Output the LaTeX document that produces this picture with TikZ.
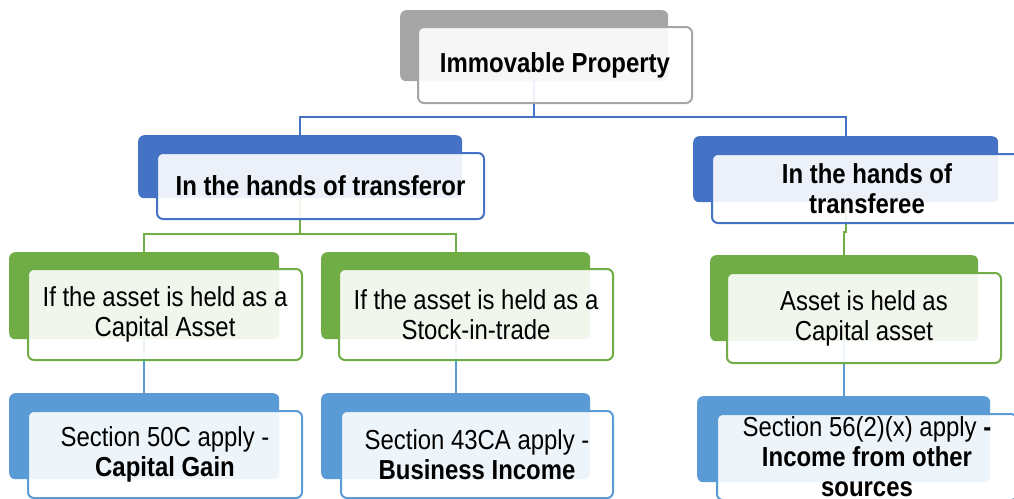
\documentclass[tikz,border=0pt]{standalone}
\usepackage{fontspec}
\setmainfont[FakeStretch=0.87]{Liberation Sans}
\definecolor{cgray}{HTML}{A5A5A5}
\definecolor{cblue}{HTML}{4472C4}
\definecolor{cgreen}{HTML}{70AD47}
\definecolor{clblue}{HTML}{5B9BD5}
\tikzset{
  back/.style={fill=#1, draw=none, rounded corners=6pt, inner sep=0pt, anchor=north west},
  front/.style={fill=white, fill opacity=0.9, text opacity=1, draw=#1, line width=2pt, rounded corners=6pt, inner sep=0pt, anchor=north west, align=center, font=\fontsize{27.5}{30}\selectfont},
  conn/.style={draw=#1, line width=2pt},
}
\begin{document}
\begin{tikzpicture}[x=1pt,y=-1pt]
\useasboundingbox (0,0) rectangle (1014,498);
\clip (0,0) rectangle (1014,498);
% back boxes
\node[back=cgray, minimum width=268pt, minimum height=71pt] (b0) at (400,10) {};
\node[back=cblue, minimum width=324pt, minimum height=63pt] (b1) at (138,135) {};
\node[back=cblue, minimum width=305pt, minimum height=66pt] (b2) at (693,136) {};
\node[back=cgreen, minimum width=270pt, minimum height=87pt] (b3) at (9,252) {};
\node[back=cgreen, minimum width=269pt, minimum height=87pt] (b4) at (321,252) {};
\node[back=cgreen, minimum width=268pt, minimum height=86pt] (b5) at (710,255) {};
\node[back=clblue, minimum width=270pt, minimum height=86pt] (b6) at (9,393) {};
\node[back=clblue, minimum width=269pt, minimum height=86pt] (b7) at (321,393) {};
\node[back=clblue, minimum width=293pt, minimum height=86pt] (b8) at (697,396) {};
% connectors
\draw[conn=cblue] (b0.south) -- ++(0,36) -| (b1.north);
\draw[conn=cblue] (b0.south) -- ++(0,36) -| (b2.north);
\draw[conn=cgreen] (b1.south) -- ++(0,36) -| (b3.north);
\draw[conn=cgreen] (b1.south) -- ++(0,36) -| (b4.north);
\draw[conn=cgreen] (b2.south) -- ++(0,30) -| (b5.north);
\draw[conn=clblue] (b3.south) -- (b6.north);
\draw[conn=clblue] (b4.south) -- (b7.north);
\draw[conn=clblue] (b5.south) -- ++(0,28) -| (b8.north);
% front boxes
\node[front=cgray, minimum width=274pt, minimum height=76pt] (f0) at (417,26) {\bfseries Immovable Property};
\node[front=cblue, minimum width=327pt, minimum height=66pt] (f1) at (156,152) {\bfseries In the hands of transferor};
\node[front=cblue, minimum width=310pt, minimum height=69pt] (f2) at (711,153) {\bfseries In the hands of\\\bfseries transferee};
\node[front=cgreen, minimum width=274pt, minimum height=91pt] (f3) at (27,268) {If the asset is held as a\\Capital Asset};
\node[front=cgreen, minimum width=274pt, minimum height=91pt] (f4) at (338,268) {If the asset is held as a\\Stock-in-trade};
\node[front=cgreen, minimum width=274pt, minimum height=90pt] (f5) at (726,272) {Asset is held as\\Capital asset};
\node[front=clblue, minimum width=274pt, minimum height=87pt] (f6) at (27,410) {Section 50C apply -\\\bfseries Capital Gain};
\node[front=clblue, minimum width=272pt, minimum height=87pt] (f7) at (340,410) {Section 43CA apply -\\\bfseries Business Income};
\node[front=clblue, minimum width=300pt, minimum height=86pt] (f8) at (716,413) {Section 56(2)(x) apply \textbf{-}\\\bfseries Income from other\\\bfseries sources};
\end{tikzpicture}
\end{document}
